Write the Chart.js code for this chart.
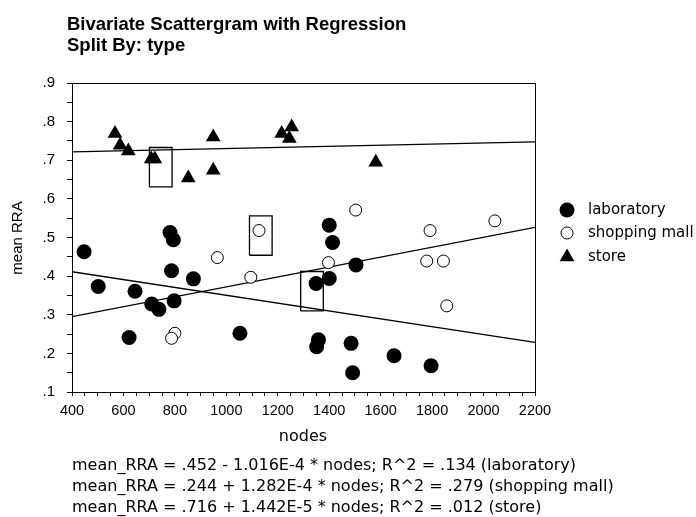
<!DOCTYPE html>
<html>
<head>
<meta charset="utf-8">
<script src="https://cdn.jsdelivr.net/npm/chart.js@4.4.0/dist/chart.umd.min.js"></script>
<style>
  html, body { margin: 0; padding: 0; background: #fff; }
</style>
</head>
<body>
<canvas id="scatterChart" width="696" height="517"></canvas>
<script>
// Data
const labNodes = [447, 502, 622, 645, 710, 738, 781, 794, 787, 797, 872, 1053, 1400, 1413, 1400, 1349, 1504, 1358, 1351, 1485, 1491, 1652, 1796];
const labRRA   = [.463, .373, .241, .361, .328, .314, .513, .494, .414, .336, .393, .252, .532, .487, .394, .381, .429, .235, .217, .226, .150, .194, .168];

const shopNodes = [1503, 1127, 1792, 2044, 965, 1095, 1397, 1779, 1844, 1857, 800, 787];
const shopRRA   = [.571, .518, .518, .543, .448, .397, .435, .439, .439, .323, .252, .239];

const storeNodes = [567, 587, 619, 708, 722, 852, 949, 949, 1215, 1254, 1245, 1581];
const storeRRA   = [.769, .739, .724, .703, .703, .654, .760, .674, .769, .786, .756, .695];

// Regression fits (intercept, slope) per group
const groups     = ['laboratory', 'shopping mall', 'store'];
const intercepts = [.452, .244, .716];
const slopes     = [-1.016e-4, 1.282e-4, 1.442e-5];
const rSquared   = ['.134', '.279', '.012'];
const slopeText  = ['- 1.016E-4', '+ 1.282E-4', '+ 1.442E-5'];

// Highlight boxes (center nodes, center RRA)
const boxNodes = [745, 1134, 1333];
const boxRRA   = [.682, .505, .361];
const boxHalfNodes = 44;
const boxHalfRRA = .051;

const xMin = 400, xMax = 2200;

function toPoints(xs, ys) {
    return xs.map((x, i) => ({ x: x, y: ys[i] }));
}

function regressionLine(i) {
    return [xMin, xMax].map(x => ({ x: x, y: intercepts[i] + slopes[i] * x }));
}

function boxOutline(i) {
    const x0 = boxNodes[i] - boxHalfNodes, x1 = boxNodes[i] + boxHalfNodes;
    const y0 = boxRRA[i] - boxHalfRRA, y1 = boxRRA[i] + boxHalfRRA;
    return [{x: x0, y: y0}, {x: x1, y: y0}, {x: x1, y: y1}, {x: x0, y: y1}, {x: x0, y: y0}];
}

const FONT = "'Liberation Sans', Arial, sans-serif";
const WIDE_FONT = "'DejaVu Sans', Verdana, sans-serif";

const lineStyle = {
    type: 'line',
    showLine: true,
    borderColor: '#000',
    borderWidth: 1.3,
    pointRadius: 0,
    fill: false,
    tension: 0,
    order: 2
};

const datasets = [
    { label: groups[0], data: toPoints(labNodes, labRRA), pointStyle: 'circle', pointRadius: 7.5,
      backgroundColor: '#000', borderColor: '#000', borderWidth: 0, order: 1 },
    { label: groups[1], data: toPoints(shopNodes, shopRRA), pointStyle: 'circle', pointRadius: 6,
      backgroundColor: '#fff', borderColor: '#000', borderWidth: 1, order: 1 },
    { label: groups[2], data: toPoints(storeNodes, storeRRA), pointStyle: 'triangle', pointRadius: 8.5,
      backgroundColor: '#000', borderColor: '#000', borderWidth: 0, order: 1 }
];
groups.forEach((g, i) => datasets.push(Object.assign({ label: 'fit ' + g, data: regressionLine(i) }, lineStyle)));
boxNodes.forEach((b, i) => datasets.push(Object.assign({ label: 'box ' + i, data: boxOutline(i) }, lineStyle)));

// Frame, titles, legend and equations
const decorPlugin = {
    id: 'decor',
    afterDraw(chart) {
        const ctx = chart.ctx;
        const area = chart.chartArea;
        ctx.save();
        ctx.strokeStyle = '#000';
        ctx.lineWidth = 1;
        ctx.beginPath();
        ctx.moveTo(area.left, area.top + 0.5);
        ctx.lineTo(area.right + 0.5, area.top + 0.5);
        ctx.lineTo(area.right + 0.5, area.bottom);
        ctx.stroke();

        ctx.fillStyle = '#000';
        ctx.textBaseline = 'alphabetic';
        ctx.textAlign = 'left';
        ctx.font = 'bold 18.5px ' + FONT;
        ctx.fillText('Bivariate Scattergram with Regression', 67, 30);
        ctx.fillText('Split By: type', 67, 51);

        ctx.font = '16px ' + WIDE_FONT;
        ctx.textAlign = 'center';
        ctx.textBaseline = 'middle';
        ctx.fillText('nodes', 303, 437);

        ctx.font = '15px ' + FONT;
        ctx.save();
        ctx.translate(18, 238);
        ctx.rotate(-Math.PI / 2);
        ctx.fillText('mean RRA', 0, 0);
        ctx.restore();

        // legend
        const legendY = [210, 233, 257];
        ctx.textAlign = 'left';
        ctx.font = '15px ' + WIDE_FONT;
        groups.forEach((g, i) => {
            const ds = chart.data.datasets[i];
            const y = legendY[i];
            ctx.fillStyle = ds.backgroundColor;
            ctx.strokeStyle = ds.borderColor;
            ctx.lineWidth = ds.borderWidth || 1;
            Chart.helpers.drawPoint(ctx, {
                pointStyle: ds.pointStyle,
                radius: ds.pointRadius,
                borderWidth: ds.borderWidth,
                rotation: 0
            }, 567, y);
            ctx.fillStyle = '#000';
            ctx.fillText(g, 588, y);
        });

        // regression equations
        ctx.font = '16px ' + WIDE_FONT;
        ctx.textBaseline = 'alphabetic';
        const eqY = [470, 491, 512];
        groups.forEach((g, i) => {
            const txt = 'mean_RRA = ' + String(intercepts[i]).replace(/^0/, '') + ' ' + slopeText[i] +
                ' * nodes; R^2 = ' + rSquared[i] + ' (' + g + ')';
            ctx.fillText(txt, 72, eqY[i]);
        });
        ctx.restore();
    }
};

const ctx = document.getElementById('scatterChart').getContext('2d');
const chart = new Chart(ctx, {
    type: 'scatter',
    data: { datasets: datasets },
    options: {
        responsive: false,
        animation: false,
        layout: { padding: { left: 0, top: 83, right: 161, bottom: 0 } },
        plugins: {
            legend: { display: false },
            tooltip: { enabled: false },
            title: { display: false }
        },
        scales: {
            x: {
                type: 'linear',
                min: xMin,
                max: xMax,
                afterFit: (scale) => { scale.height = 125; },
                grid: { drawOnChartArea: false, drawTicks: true, tickLength: 4, color: '#000' },
                border: { color: '#000', width: 1 },
                ticks: {
                    stepSize: 50,
                    autoSkip: false,
                    maxRotation: 0,
                    padding: 6,
                    color: '#000',
                    font: { family: FONT, size: 14.5 },
                    callback: (v) => (v % 200 === 0 ? String(v) : '')
                }
            },
            y: {
                type: 'linear',
                min: .1,
                max: .9,
                afterFit: (scale) => { scale.width = 72; },
                grid: { drawOnChartArea: false, drawTicks: true, tickLength: 5, color: '#000' },
                border: { color: '#000', width: 1 },
                ticks: {
                    stepSize: .05,
                    autoSkip: false,
                    padding: 12,
                    color: '#000',
                    font: { family: FONT, size: 15 },
                    callback: (v) => {
                        const t = Math.round(v * 100);
                        return t % 10 === 0 ? '.' + (t / 10) : '';
                    }
                }
            }
        }
    },
    plugins: [decorPlugin]
});
</script>
</body>
</html>
